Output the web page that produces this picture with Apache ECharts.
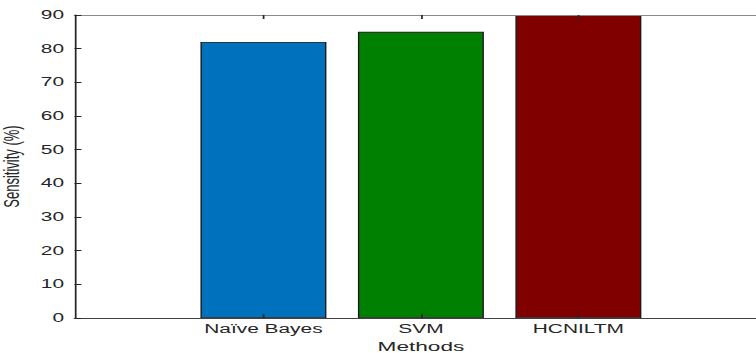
<!DOCTYPE html>
<html>
<head>
<meta charset="utf-8">
<script src="https://cdn.jsdelivr.net/npm/echarts@6/dist/echarts.min.js"></script>
<style>
html, body { margin:0; padding:0; overflow:hidden; background:#fff; width:756px; height:353px; }
#chart { width:441px; height:353px; transform: scaleX(1.74); transform-origin: 0 0; }
</style>
</head>
<body>
<div id="chart"></div>
<script>
const categories = ['Naïve Bayes', 'SVM', 'HCNILTM'];
const sensitivity = [82, 85, 90];
const barColors = ['#0072BD', '#008000', '#800000'];
const positions = categories.map((c, i) => i + 1.2);

const FONT = 'Liberation Sans, Arial, Helvetica, sans-serif';
const TXT = '#262626';

const chart = echarts.init(document.getElementById('chart'), null, { renderer: 'svg' });
chart.setOption({
  animation: false,
  backgroundColor: '#fff',
  grid: { left: 42.8, right: 0, top: 15, bottom: 35, containLabel: false, outerBoundsMode: 'none' },
  xAxis: [{
    type: 'value', min: 0, max: 4.4, position: 'bottom', z: 10,
    name: 'Methods', nameLocation: 'middle', nameGap: 19,
    nameTextStyle: { fontFamily: FONT, fontSize: 13, color: TXT },
    axisLine: { show: true, onZero: false, lineStyle: { color: '#404040', width: 1 } },
    axisTick: { show: true, inside: true, length: 4, customValues: positions, lineStyle: { color: TXT } },
    axisLabel: { customValues: positions, margin: 5, fontFamily: FONT, fontSize: 12, color: TXT,
      formatter: v => { const k = positions.findIndex(p => Math.abs(p - v) < 1e-6); return k >= 0 ? categories[k] : ''; } },
    splitLine: { show: false }
  }, {
    type: 'value', min: 0, max: 4.4, position: 'top', z: 10,
    axisLine: { show: true, onZero: false, lineStyle: { color: '#8a8a8a', width: 1 } },
    axisTick: { show: true, inside: true, length: 4, customValues: positions, lineStyle: { color: TXT } },
    axisLabel: { show: false },
    splitLine: { show: false }
  }],
  yAxis: {
    type: 'value', min: 0, max: 90, interval: 10, z: 10, position: 'left',
    name: 'Sensitivity (%)', nameLocation: 'middle', nameGap: 21, nameRotate: 90,
    nameTextStyle: { fontFamily: FONT, fontSize: 13, color: TXT },
    axisLine: { show: true, onZero: false, lineStyle: { color: TXT, width: 1 } },
    axisTick: { show: true, inside: true, length: 4, lineStyle: { color: TXT } },
    axisLabel: { margin: 6, fontFamily: FONT, fontSize: 12, color: TXT },
    splitLine: { show: false }
  },
  series: [{
    type: 'bar',
    xAxisIndex: 0,
    barWidth: 72.4,
    data: categories.map((c, i) => ({
      value: [positions[i], sensitivity[i]],
      itemStyle: { color: barColors[i], borderColor: '#1a1a1a', borderWidth: 0.8 }
    }))
  }]
});
</script>
</body>
</html>
